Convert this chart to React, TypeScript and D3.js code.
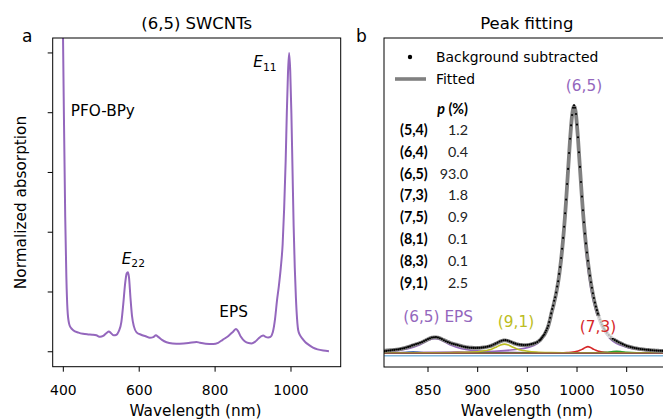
import React from 'react';
import * as d3 from 'd3';

// ---------- Panel a: absorption spectrum ----------
const absNm = [397, 401, 405, 408, 411, 415, 420, 426, 440, 452, 465, 476, 487, 497, 505, 514, 520, 526, 533, 539, 546, 553, 558, 563, 567, 570, 573, 577, 581, 586, 593, 605, 617, 628, 637, 644, 650, 660, 672, 688, 707, 730, 751, 760, 775, 795, 808, 820, 835, 848, 855, 860, 868, 878, 888, 896, 905, 915, 922, 927, 933, 940, 946, 952, 958, 963, 968, 973, 978, 982, 986, 989, 992, 995, 998, 1001, 1004, 1007, 1010, 1013, 1016, 1019, 1024, 1030, 1038, 1046, 1058, 1070, 1085, 1100];
const absVal = [1.3, 0.85, 0.45, 0.25, 0.14, 0.095, 0.08, 0.072, 0.064, 0.06, 0.058, 0.057, 0.055, 0.05, 0.053, 0.063, 0.068, 0.062, 0.055, 0.056, 0.068, 0.1, 0.16, 0.23, 0.262, 0.266, 0.25, 0.18, 0.12, 0.085, 0.065, 0.057, 0.052, 0.047, 0.049, 0.055, 0.05, 0.04, 0.032, 0.028, 0.027, 0.029, 0.033, 0.03, 0.027, 0.026, 0.03, 0.04, 0.053, 0.068, 0.076, 0.07, 0.05, 0.035, 0.029, 0.028, 0.033, 0.045, 0.052, 0.054, 0.05, 0.048, 0.05, 0.065, 0.11, 0.17, 0.22, 0.28, 0.36, 0.48, 0.64, 0.8, 0.93, 1.0, 0.94, 0.8, 0.61, 0.42, 0.28, 0.18, 0.11, 0.072, 0.055, 0.044, 0.032, 0.024, 0.014, 0.008, 0.004, 0.002];
const absXTicks = [400, 600, 800, 1000];
const absYTicks = [0, 0.2, 0.4, 0.6, 0.8, 1.0];

// ---------- Panel b: peak fitting ----------
const fitNm = [806, 808, 810, 812, 814, 816, 818, 820, 822, 824, 826, 828, 830, 832, 834, 836, 838, 840, 842, 844, 846, 848, 850, 852, 854, 856, 858, 860, 862, 864, 866, 868, 870, 872, 874, 876, 878, 880, 882, 884, 886, 888, 890, 892, 894, 896, 898, 900, 902, 904, 906, 908, 910, 912, 914, 916, 918, 920, 922, 924, 926, 928, 930, 932, 934, 936, 938, 940, 942, 944, 946, 948, 950, 952, 954, 956, 958, 960, 962, 963, 964, 965, 966, 967, 968, 969, 970, 971, 972, 973, 974, 975, 976, 977, 978, 979, 980, 981, 982, 983, 984, 985, 986, 987, 988, 989, 990, 991, 992, 993, 994, 995, 996, 997, 998, 999, 1000, 1001, 1002, 1003, 1004, 1005, 1006, 1007, 1008, 1009, 1010, 1011, 1012, 1013, 1014, 1015, 1016, 1017, 1018, 1019, 1020, 1021, 1022, 1023, 1024, 1025, 1026, 1027, 1028, 1030, 1032, 1034, 1036, 1038, 1040, 1042, 1044, 1046, 1048, 1050, 1052, 1054, 1056, 1058, 1060, 1062, 1064, 1066, 1068, 1070, 1072, 1074, 1076, 1078, 1080, 1082, 1084, 1086, 1088];
const fitVal = [0.02, 0.0205, 0.021, 0.0216, 0.0223, 0.0232, 0.0241, 0.0252, 0.0265, 0.028, 0.0299, 0.032, 0.0346, 0.0373, 0.0401, 0.0427, 0.0452, 0.0477, 0.0505, 0.0539, 0.0576, 0.0616, 0.0653, 0.0688, 0.0714, 0.0725, 0.073, 0.0715, 0.069, 0.0657, 0.0621, 0.0583, 0.0549, 0.0516, 0.0488, 0.0467, 0.0446, 0.0426, 0.0404, 0.0382, 0.0361, 0.0345, 0.0332, 0.0321, 0.0317, 0.0314, 0.0311, 0.031, 0.0313, 0.0319, 0.0327, 0.034, 0.0356, 0.0376, 0.04, 0.0436, 0.0472, 0.051, 0.055, 0.0584, 0.0605, 0.0608, 0.0593, 0.0565, 0.0533, 0.05, 0.0473, 0.0452, 0.0434, 0.0425, 0.042, 0.042, 0.0423, 0.0433, 0.045, 0.0472, 0.05, 0.0539, 0.0594, 0.0626, 0.0675, 0.0725, 0.0775, 0.0825, 0.0895, 0.0975, 0.1065, 0.1175, 0.1315, 0.1465, 0.165, 0.18, 0.195, 0.212, 0.229, 0.248, 0.269, 0.292, 0.319, 0.349, 0.3825, 0.42, 0.462, 0.508, 0.5595, 0.615, 0.675, 0.7365, 0.798, 0.8585, 0.911, 0.9535, 0.98, 0.991, 0.982, 0.957, 0.9125, 0.862, 0.802, 0.7427, 0.6835, 0.6255, 0.5727, 0.524, 0.4805, 0.4405, 0.405, 0.3725, 0.342, 0.314, 0.289, 0.2656, 0.2442, 0.225, 0.208, 0.1925, 0.1782, 0.1652, 0.1533, 0.1426, 0.132, 0.1227, 0.1144, 0.1072, 0.101, 0.0907, 0.081, 0.0732, 0.0669, 0.0621, 0.0574, 0.053, 0.0492, 0.0455, 0.0419, 0.0386, 0.0362, 0.0339, 0.0319, 0.0302, 0.0287, 0.0274, 0.0263, 0.0253, 0.0243, 0.0235, 0.0228, 0.0218, 0.0212, 0.0206, 0.02, 0.0196, 0.0192, 0.0188, 0.0185];
const bgVal = [0.018, 0.019, 0.0205, 0.021, 0.0225, 0.023, 0.0245, 0.025, 0.027, 0.0285, 0.03, 0.0325, 0.035, 0.037, 0.041, 0.043, 0.046, 0.048, 0.0515, 0.054, 0.058, 0.062, 0.066, 0.069, 0.072, 0.0735, 0.0738, 0.072, 0.0695, 0.066, 0.0615, 0.0575, 0.054, 0.051, 0.048, 0.046, 0.044, 0.042, 0.0398, 0.0378, 0.0355, 0.034, 0.033, 0.0318, 0.0312, 0.031, 0.0308, 0.0309, 0.0312, 0.032, 0.033, 0.0345, 0.036, 0.038, 0.0408, 0.0445, 0.048, 0.052, 0.0562, 0.0595, 0.0615, 0.0618, 0.06, 0.057, 0.054, 0.0505, 0.0478, 0.0455, 0.044, 0.043, 0.0425, 0.0425, 0.043, 0.044, 0.0458, 0.048, 0.0505, 0.054, 0.06, 0.063, 0.068, 0.073, 0.079, 0.084, 0.092, 0.1, 0.109, 0.119, 0.134, 0.151, 0.168, 0.185, 0.199, 0.218, 0.232, 0.251, 0.275, 0.296, 0.325, 0.352, 0.388, 0.425, 0.468, 0.512, 0.566, 0.62, 0.682, 0.742, 0.805, 0.862, 0.915, 0.956, 0.985, 0.995, 0.985, 0.96, 0.918, 0.868, 0.808, 0.75, 0.69, 0.632, 0.578, 0.53, 0.485, 0.446, 0.41, 0.377, 0.346, 0.318, 0.292, 0.27, 0.248, 0.229, 0.211, 0.195, 0.181, 0.167, 0.155, 0.144, 0.133, 0.124, 0.116, 0.108, 0.102, 0.091, 0.082, 0.074, 0.0675, 0.0625, 0.0578, 0.0535, 0.0495, 0.0458, 0.0422, 0.039, 0.0365, 0.0342, 0.0322, 0.0305, 0.029, 0.0276, 0.0265, 0.0255, 0.0245, 0.0237, 0.023, 0.022, 0.0214, 0.0208, 0.0202, 0.0198, 0.0194, 0.019, 0.0187];

// fitted components (value incl. background)
const cMainNm = [806, 850, 880, 900, 920, 940, 950, 960, 965, 970, 975, 980, 985, 990, 993, 995, 997, 999, 1001, 1004, 1009, 1014, 1019, 1024, 1030, 1036, 1044, 1052, 1060, 1070, 1080, 1088];
const cMainVal = [0.012, 0.013, 0.0143, 0.0158, 0.0185, 0.0255, 0.032, 0.0475, 0.067, 0.101, 0.175, 0.264, 0.414, 0.668, 0.85, 0.944, 0.98, 0.944, 0.85, 0.668, 0.414, 0.264, 0.178, 0.122, 0.082, 0.058, 0.041, 0.031, 0.0258, 0.021, 0.018, 0.0165];
const cEpsNm = [806, 820, 830, 840, 846, 850, 854, 857, 860, 864, 868, 874, 884, 894, 910, 930, 960, 1000, 1088];
const cEpsVal = [0.0164, 0.021, 0.0279, 0.0407, 0.0522, 0.0603, 0.0664, 0.068, 0.0664, 0.0603, 0.0522, 0.0407, 0.0279, 0.021, 0.0162, 0.0135, 0.0117, 0.0108, 0.0104];
const c91Nm = [806, 850, 880, 895, 905, 911, 915, 919, 923, 927, 931, 935, 939, 943, 949, 959, 974, 1000, 1088];
const c91Val = [0.0104, 0.0115, 0.0122, 0.0144, 0.0189, 0.023, 0.028, 0.0349, 0.0424, 0.046, 0.0424, 0.0349, 0.028, 0.023, 0.0189, 0.0144, 0.0122, 0.011, 0.0103];
const c73Nm = [806, 960, 980, 990, 996, 1000, 1003, 1005, 1007, 1009, 1011, 1013, 1015, 1017, 1019, 1022, 1026, 1032, 1045, 1088];
const c73Val = [0.0101, 0.0103, 0.0113, 0.0126, 0.0142, 0.0175, 0.0212, 0.025, 0.0296, 0.034, 0.036, 0.034, 0.0296, 0.025, 0.0212, 0.0175, 0.0142, 0.0126, 0.0113, 0.0103];
const c75Nm = [806, 1010, 1020, 1030, 1035, 1040, 1045, 1050, 1060, 1088];
const c75Val = [0.0101, 0.0107, 0.0114, 0.0135, 0.0156, 0.017, 0.0156, 0.0135, 0.0114, 0.0104];
const c54Nm = [806, 820, 827, 831, 835, 839, 843, 850, 870, 1088];
const c54Val = [0.0104, 0.0114, 0.0125, 0.014, 0.015, 0.014, 0.0125, 0.0114, 0.0105, 0.0101];
const c64Nm = [806, 840, 860, 868, 872, 876, 880, 884, 888, 892, 900, 920, 1088];
const c64Val = [0.0101, 0.0105, 0.0111, 0.0118, 0.012, 0.0132, 0.014, 0.0132, 0.012, 0.0118, 0.0111, 0.0105, 0.0101];
const cBgNm = [806, 1088];
const cBgVal = [0.0095, 0.0095];
const cZeroNm = [806, 1088];
const cZeroVal = [0, 0];
const fitXTicks = [850, 900, 950, 1000, 1050];

const tableSpecies = ['(5,4)', '(6,4)', '(6,5)', '(7,3)', '(7,5)', '(8,1)', '(8,3)', '(9,1)'];
const tablePct = ['1.2', '0.4', '93.0', '1.8', '0.9', '0.1', '0.1', '2.5'];

const PURPLE = '#9467bd';
const FONT = '"DejaVu Sans", sans-serif';

export default function App() {
  // panel a
  const xL = d3.scaleLinear().domain([372, 1131]).range([52.7, 340.7]);
  const yL = d3.scaleLinear().domain([-0.05, 1.05]).range([366.7, 38]);
  // panel b
  const xR = d3.scaleLinear().domain([805.7, 1093.2]).range([384, 669.6]);
  const yR = d3.scaleLinear().domain([-0.0449, 1.262]).range([367, 38]);

  const lineL = d3.line<number>().x((_, i) => xL(absNm[i])).y(d => yL(d)).curve(d3.curveMonotoneX);
  const mk = (nm: number[]) => d3.line<number>().x((_, i) => xR(nm[i])).y(d => yR(d)).curve(d3.curveMonotoneX);

  const comps: [number[], number[], string][] = [
    [cZeroNm, cZeroVal, '#7fb6dc'],
    [c54Nm, c54Val, '#1f77b4'],
    [c64Nm, c64Val, '#ff7f0e'],
    [cMainNm, cMainVal, PURPLE],
    [cEpsNm, cEpsVal, PURPLE],
    [c73Nm, c73Val, '#d62728'],
    [c75Nm, c75Val, '#2ca02c'],
    [c91Nm, c91Val, '#bcbd22'],
    [cBgNm, cBgVal, '#8c564b'],
  ];

  const rowY = (i: number) => 130 + 21.8 * i;

  return (
    <svg width={663} height={419} style={{ position: 'absolute', left: 0, top: 0, background: '#fff' }} fontFamily={FONT}>
      <defs>
        <clipPath id="clipL"><rect x={52.7} y={38} width={288} height={328.7} /></clipPath>
        <clipPath id="clipR"><rect x={384} y={38} width={285.6} height={329} /></clipPath>
      </defs>
      <rect x={0} y={0} width={663} height={419} fill="#fff" />

      {/* ---------- Panel a ---------- */}
      <text x={196.7} y={28.5} fontSize={16.5} textAnchor="middle" fill="#000">(6,5) SWCNTs</text>
      <text x={22} y={41.5} fontSize={17} fill="#000">a</text>
      <g clipPath="url(#clipL)">
        <path d={lineL(absVal) || ''} fill="none" stroke={PURPLE} strokeWidth={2} />
      </g>
      <rect x={52.7} y={38} width={288} height={328.7} fill="none" stroke="#000" strokeWidth={1} />
      {absXTicks.map(t => (
        <g key={'xl' + t}>
          <line x1={xL(t)} x2={xL(t)} y1={366.7} y2={371.7} stroke="#000" strokeWidth={1} />
          <text x={xL(t)} y={395} fontSize={13.9} textAnchor="middle" fill="#000">{t}</text>
        </g>
      ))}
      {absYTicks.map(t => (
        <line key={'yl' + t} x1={47.7} x2={52.7} y1={yL(t)} y2={yL(t)} stroke="#000" strokeWidth={1} />
      ))}
      <text x={195.5} y={415.5} fontSize={15.3} textAnchor="middle" fill="#000">Wavelength (nm)</text>
      <text transform="translate(25.5,202.5) rotate(-90)" fontSize={15.3} textAnchor="middle" fill="#000">Normalized absorption</text>
      <text x={70.7} y={115.5} fontSize={15.3} fill="#000">PFO-BPy</text>
      <text x={219.3} y={316.5} fontSize={15.3} fill="#000">EPS</text>
      <text x={253.3} y={67} fontSize={15.3} fill="#000"><tspan fontStyle="italic">E</tspan><tspan fontSize={10.7} dy={3.5}>11</tspan></text>
      <text x={121.7} y={263.5} fontSize={15.3} fill="#000"><tspan fontStyle="italic">E</tspan><tspan fontSize={10.7} dy={3.5}>22</tspan></text>

      {/* ---------- Panel b ---------- */}
      <text x={526.8} y={28.5} fontSize={16.5} textAnchor="middle" fill="#000">Peak fitting</text>
      <text x={356} y={41.5} fontSize={17} fill="#000">b</text>
      <g clipPath="url(#clipR)">
        {comps.map(([nm, v, c], i) => (
          <path key={'c' + i} d={mk(nm)(v) || ''} fill="none" stroke={c} strokeWidth={1.6} />
        ))}
        <path d={mk(fitNm)(fitVal) || ''} fill="none" stroke="#808080" strokeWidth={3.8} />
        {bgVal.map((v, i) => (
          <circle key={'d' + i} cx={xR(fitNm[i])} cy={yR(v)} r={1.05} fill="#000" />
        ))}
      </g>
      <rect x={384} y={38} width={285.6} height={329} fill="none" stroke="#000" strokeWidth={1} />
      {fitXTicks.map(t => (
        <g key={'xr' + t}>
          <line x1={xR(t)} x2={xR(t)} y1={367} y2={372} stroke="#000" strokeWidth={1} />
          <text x={xR(t)} y={395} fontSize={13.9} textAnchor="middle" fill="#000">{t}</text>
        </g>
      ))}
      <text x={526.8} y={415.5} fontSize={15.3} textAnchor="middle" fill="#000">Wavelength (nm)</text>

      {/* legend */}
      <circle cx={410} cy={57} r={2.2} fill="#000" />
      <text x={436} y={62} fontSize={13.9} fill="#000">Background subtracted</text>
      <line x1={395} x2={426} y1={79} y2={79} stroke="#808080" strokeWidth={3.6} />
      <text x={436} y={84} fontSize={13.9} fill="#000">Fitted</text>

      {/* table */}
      <g fontFamily='Lato, "Open Sans", sans-serif' fontSize={14.3} fill="#000">
        <text x={468} y={113.5} textAnchor="end" fontWeight="bold"><tspan fontStyle="italic">p</tspan> (%)</text>
        {tableSpecies.map((s, i) => (
          <g key={'t' + s}>
            <text x={400} y={rowY(i) + 5} fontWeight="bold">{s}</text>
            <text x={468} y={rowY(i) + 5} textAnchor="end" fill="#222">{tablePct[i]}</text>
          </g>
        ))}
      </g>

      {/* peak labels with translucent white boxes */}
      <text x={584} y={90.5} fontSize={15.3} textAnchor="middle" fill={PURPLE}>(6,5)</text>
      <rect x={400} y={304} width={78} height={22} fill="#fff" fillOpacity={0.6} />
      <text x={403.3} y={321.5} fontSize={15.3} fill={PURPLE}>(6,5) EPS</text>
      <rect x={496} y={311} width={40} height={22} fill="#fff" fillOpacity={0.7} />
      <text x={516} y={327} fontSize={15.3} textAnchor="middle" fill="#bcbd22">(9,1)</text>
      <rect x={578} y={316} width={40} height={22} fill="#fff" fillOpacity={0.7} />
      <text x={598} y={332} fontSize={15.3} textAnchor="middle" fill="#d62728">(7,3)</text>
    </svg>
  );
}
